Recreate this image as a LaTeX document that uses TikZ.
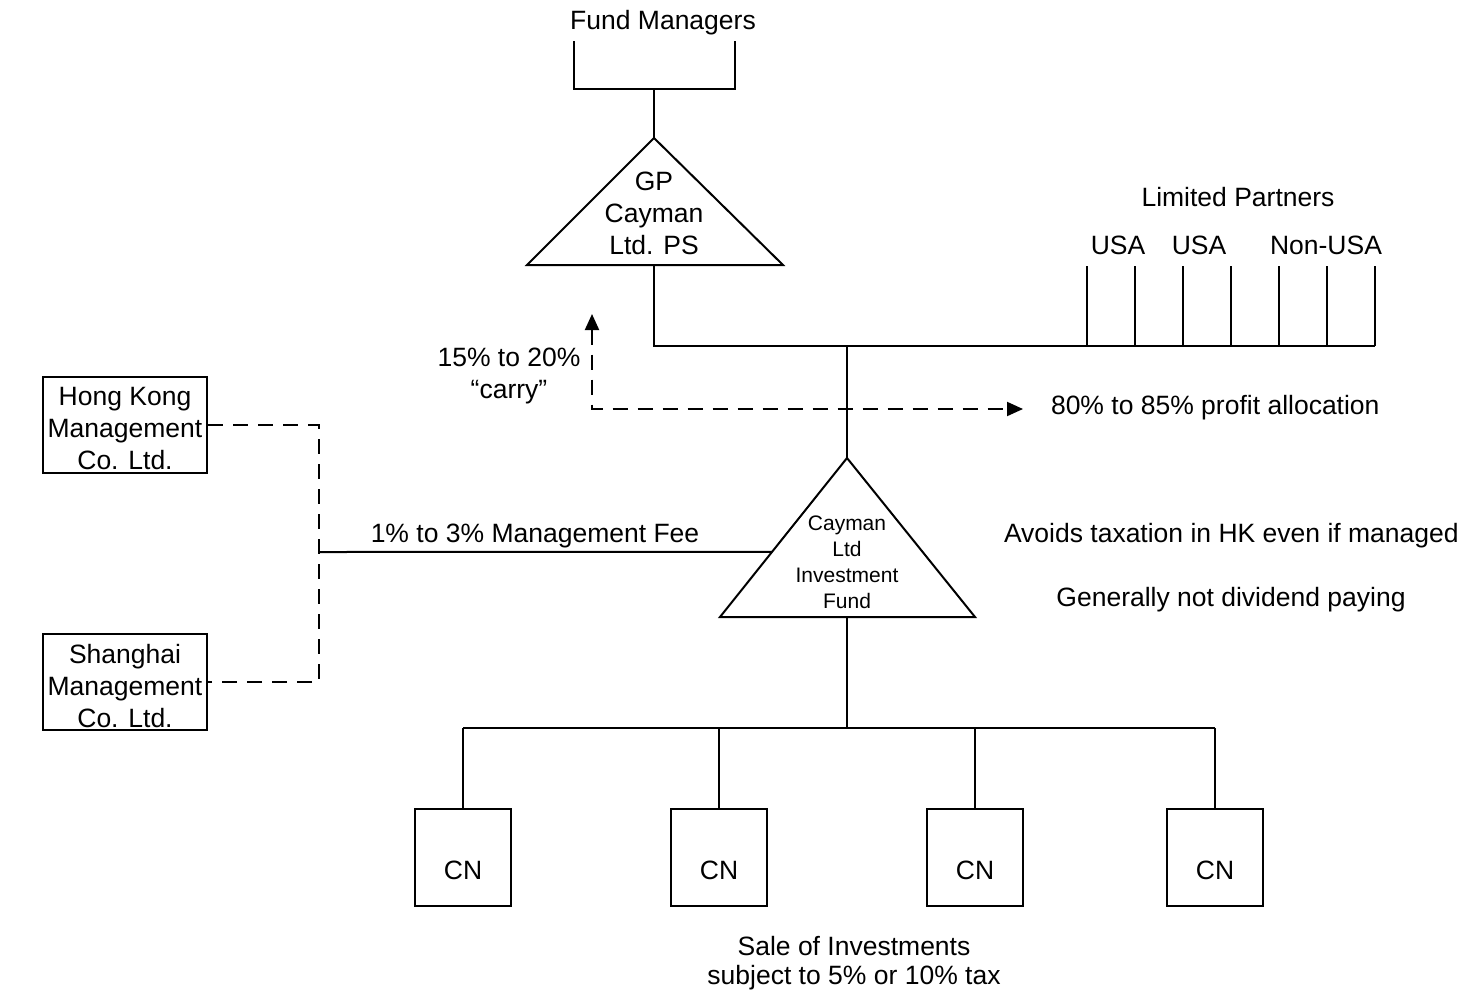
\documentclass[tikz,border=0pt]{standalone}
\usepackage{fontspec}
\setmainfont{Liberation Sans}
\usetikzlibrary{arrows.meta,calc}
\begin{document}
\begin{tikzpicture}[x=0.5pt,y=-0.5pt,line width=1pt,
 lbl/.style={font=\fontsize{13.25}{16}\selectfont,inner sep=0pt,align=center},
 one/.style={lbl,text height=9.5pt,text depth=0pt},
 small/.style={font=\fontsize{10.5}{13}\selectfont,inner sep=0pt,align=center},
 mgmtbox/.style={draw,minimum width=82pt,minimum height=48pt,inner sep=0pt},
 cnbox/.style={draw,minimum width=48pt,minimum height=48.5pt,inner sep=0pt,text height=21.5pt,text depth=0pt,font=\fontsize{13.25}{16}\selectfont},
 dsh/.style={dash pattern=on 7.5pt off 5pt},
 tipboth/.style={{Triangle[length=8pt,width=7pt]}-{Triangle[length=8pt,width=7pt]}}
]
\useasboundingbox (0,0) rectangle (1465,996);

% Fund managers
\node[one] (fm) at (663,20) {Fund Managers};
\coordinate (fmL) at (574,41);
\coordinate (fmR) at (735,41);
\coordinate (fmJ) at (654,89);

% GP triangle
\coordinate (gpA) at (654,138);
\coordinate (gpL) at (527,265);
\coordinate (gpR) at (783,265);
\coordinate (gpB) at (654,265);
\draw (gpA) -- (gpL) -- (gpR) -- cycle;
\node[lbl] (gp) at (654,213) {GP\\Cayman\\Ltd. PS};

\draw (fmL) |- (fmJ) -| (fmR);
\draw (fmJ) -- (gpA);

% Fund triangle
\coordinate (fA) at (847,458);
\coordinate (fL) at (720,617);
\coordinate (fR) at (975,617);
\coordinate (fB) at (847,617);
\draw (fA) -- (fL) -- (fR) -- cycle;
\node[small] (fund) at (847,562.5) {Cayman\\Ltd\\Investment\\Fund};

% Main bus to limited partners
\coordinate (bus) at (847,346);
\coordinate (lpEnd) at (1375,346);
\draw (gpB) |- (lpEnd);
\draw (bus) -- (fA);
\foreach \x [count=\i] in {1087,1135,1183,1231,1279,1327,1375} {
  \coordinate (lpT\i) at (\x,266);
  \draw (lpT\i) -- (lpT\i |- bus);
}
\node[one] (lp) at (1238,197) {Limited Partners};
\node[one] (usa1) at (1118,245) {USA};
\node[one] (usa2) at (1199,245) {USA};
\node[one] (nonusa) at (1326,245) {Non-USA};

% Carry / profit dashed arrows
\coordinate (carryTip) at (592,314);
\coordinate (profTip) at (1023,409);
\draw[dsh,tipboth] (carryTip) |- (profTip);
\node[lbl] (carry) at (509,376) {15\% to 20\%\\“carry”};
\node[one,anchor=west] (prof) at (1050,405) {80\% to 85\% profit allocation};

% Management companies
\node[mgmtbox] (hk) at (125,425) {};
\node[lbl] (hkT) at (125,429) {Hong Kong\\Management\\Co. Ltd.};
\node[mgmtbox] (sh) at (125,682) {};
\node[lbl] (shT) at (125,686) {Shanghai\\Management\\Co. Ltd.};
\coordinate (feeJ) at (319,552);
\draw[dsh] (hk.east) -| (feeJ) |- (sh.east);
\coordinate (feeEnd) at ($(fA)!0.59!(fL)$);
\draw (feeJ) -- (feeEnd);
\node[one] (fee) at (535,533) {1\% to 3\% Management Fee};

\node[one,anchor=west] (avoid) at (1003,533) {Avoids taxation in HK even if managed};
\node[one] (gen) at (1231,597) {Generally not dividend paying};

% CN companies
\coordinate (jn) at (847,728);
\foreach \x [count=\i] in {463,719,975,1215} {
  \node[cnbox] (cn\i) at (\x,857.5) {CN};
  \draw (cn\i.north) -- (cn\i.north |- jn);
}
\draw (fB) -- (jn);
\draw (cn1.north |- jn) -- (cn4.north |- jn);

\node[lbl,font=\fontsize{13.25}{14.5}\selectfont] (sale) at (854,963) {Sale of Investments\\subject to 5\% or 10\% tax};
\end{tikzpicture}
\end{document}
